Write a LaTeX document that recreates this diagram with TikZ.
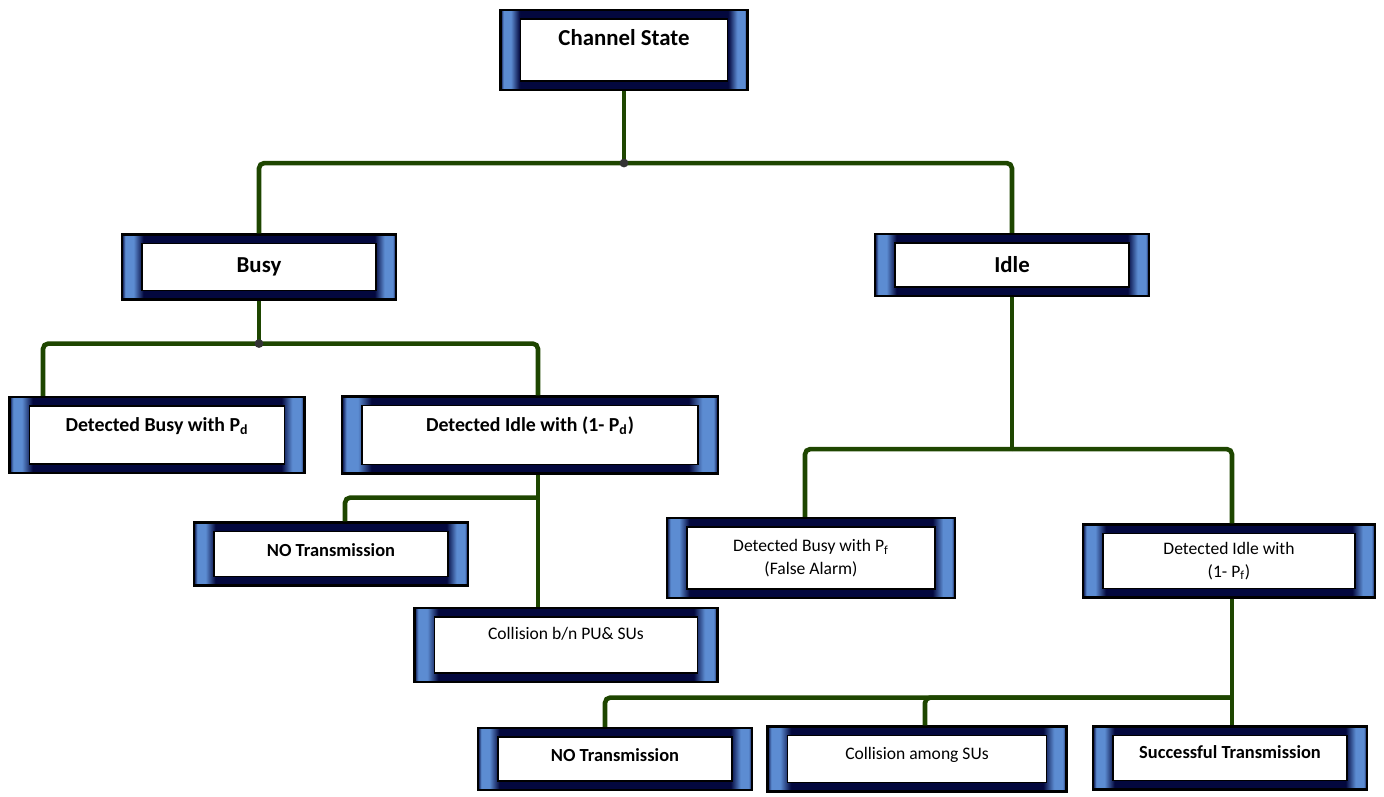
\documentclass[tikz,border=0pt]{standalone}
\usepackage{fontspec}
\setmainfont{Carlito}
\usetikzlibrary{positioning}
\definecolor{bvdark}{RGB}{3,8,62}
\definecolor{bvlight}{RGB}{92,140,210}
\definecolor{linkgreen}{RGB}{30,70,0}
\pgfdeclarehorizontalshading{bevel}{100bp}{color(0bp)=(bvdark); color(25bp)=(bvdark);
  color(25.6bp)=(bvlight); color(27.1bp)=(bvlight); color(28.9bp)=(bvdark);
  color(71.1bp)=(bvdark); color(72.9bp)=(bvlight); color(74.4bp)=(bvlight);
  color(75bp)=(bvdark); color(100bp)=(bvdark)}
\tikzset{box/.style = {shading=bevel, draw=black, line width=1.2pt, inner sep=0pt, align=center,
                       path picture={\draw [fill=white, line width=0.8pt]
                         ([shift={(0.4cm,0.18cm)}]path picture bounding box.south west) rectangle
                         ([shift={(-0.4cm,-0.18cm)}]path picture bounding box.north east);}}}
\tikzset{lift/.style = {text depth=#1}}
\tikzset{link/.style = {draw=linkgreen, line width=2.6pt, rounded corners=3pt}}
\tikzset{dot/.style = {fill=black!80, circle, inner sep=0, minimum size=5pt}}
\newcommand{\headfont}{\fontsize{13}{15}\selectfont\bfseries}
\newcommand{\midfont}{\fontsize{11.3}{14}\selectfont\bfseries}
\newcommand{\smallbold}{\fontsize{10.5}{13}\selectfont\bfseries}
\newcommand{\smallplain}{\fontsize{10}{13}\selectfont}

\begin{document}
\begin{tikzpicture}[x=0.02cm, y=-0.02cm]
      \useasboundingbox (0,0) rectangle (1384,796);

      % boxes
      \node [box, lift=14pt, minimum width=4.94cm, minimum height=1.6cm, font=\headfont] (chan) at (624,50) {Channel State};
      \node [box, minimum width=5.48cm, minimum height=1.3cm, font=\headfont] (busy) at (259,267) {Busy};
      \node [box, minimum width=5.48cm, minimum height=1.24cm, font=\headfont] (idle) at (1012,265) {Idle};

      \node [box, lift=12pt, minimum width=5.9cm, minimum height=1.52cm, font=\midfont] (dbpd) at (157,435) {Detected Busy with P\textsubscript{d}};
      \node [box, lift=12pt, minimum width=7.52cm, minimum height=1.54cm, font=\midfont] (dipd) at (530,435) {Detected Idle with (1- P\textsubscript{d})};
      \node [box, lift=4.5pt, minimum width=5.48cm, minimum height=1.26cm, font=\smallbold] (notxa) at (331,554) {NO Transmission};
      \node [box, lift=13pt, minimum width=6.06cm, minimum height=1.48cm, font=\smallplain] (colla) at (566,645) {Collision b/n PU\& SUs};

      \node [box, minimum width=5.76cm, minimum height=1.6cm, font=\smallplain] (dbpf) at (811,558) {Detected Busy with P\textsubscript{f}\\(False Alarm)};
      \node [box, minimum width=5.84cm, minimum height=1.46cm, font=\smallplain] (dipf) at (1229,561) {Detected Idle with\\(1- P\textsubscript{f})};
      \node [box, lift=5pt, minimum width=5.48cm, minimum height=1.24cm, font=\smallbold] (notxb) at (615,759) {NO Transmission};
      \node [box, lift=6.5pt, minimum width=5.98cm, minimum height=1.3cm, font=\smallplain] (collb) at (917,759) {Collision among SUs};
      \node [box, lift=6.5pt, minimum width=5.48cm, minimum height=1.26cm, font=\smallbold] (succ) at (1230,758) {Successful Transmission};

      % links
      \draw [link] (chan.south) -- ++(0,72) coordinate (ja);
      \draw [link] (ja) -| (busy.north);
      \draw [link] (ja) -| (idle.north);
      \node [dot] at (ja) {};

      \draw [link] (busy.south) -- ++(0,43) coordinate (jb);
      \draw [link] (jb) -| ([xshift=-2.28cm]dbpd.north);
      \draw [link] (jb) -| ([xshift=0.16cm]dipd.north);
      \node [dot] at (jb) {};

      \draw [link] ([xshift=0.16cm]dipd.south) -- ++(0,23) coordinate (jc);
      \draw [link] (jc) -- (jc |- colla.north);
      \draw [link] (jc) -| ([xshift=0.28cm]notxa.north);

      \draw [link] (idle.south) -- ++(0,152) coordinate (jd);
      \draw [link] (jd) -| ([xshift=-0.12cm]dbpf.north);
      \draw [link] (jd) -| ([xshift=0.06cm]dipf.north);

      \draw [link] ([xshift=0.06cm]dipf.south) -- ++(0,99) coordinate (je);
      \draw [link] (je) -- (je |- succ.north);
      \draw [link] (je) -| ([xshift=-0.2cm]notxb.north);
      \draw [link] (je) -| ([xshift=0.16cm]collb.north);
    \end{tikzpicture}
\end{document}
